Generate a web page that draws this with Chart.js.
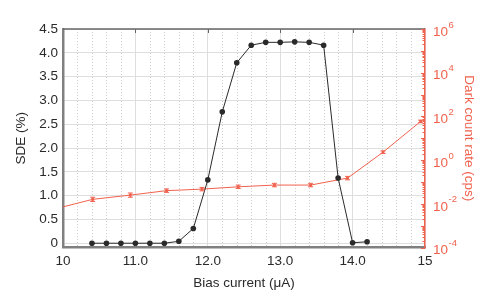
<!DOCTYPE html>
<html>
<head>
<meta charset="utf-8">
<script src="https://cdn.jsdelivr.net/npm/chart.js@4.4.1/dist/chart.umd.min.js"></script>
<style>
  html, body { margin: 0; padding: 0; background: #fff; }
  #wrap { width: 500px; height: 300px; }
</style>
</head>
<body>
<div id="wrap"><canvas id="c"></canvas></div>
<script>
// SDE vs bias current (left axis)
const biasSde = [10.4, 10.6, 10.8, 11.0, 11.2, 11.4, 11.6, 11.8, 12.0, 12.2, 12.4, 12.6, 12.8, 13.0, 13.2, 13.4, 13.6, 13.8, 14.0, 14.2];
const sdeValues = [0, 0, 0, 0, 0, 0, 0.04, 0.31, 1.33, 2.76, 3.79, 4.16, 4.22, 4.22, 4.23, 4.22, 4.16, 1.37, 0.01, 0.03];

// dark count rate vs bias current (right, log axis); first point sits just left of the axis
const biasDcr = [9.92, 10.41, 10.93, 11.43, 11.92, 12.42, 12.92, 13.42, 13.93, 14.42, 14.94];
const dcrValues = [0.0062, 0.016, 0.025, 0.040, 0.047, 0.060, 0.072, 0.072, 0.15, 2.3, 59];
const dcrErrFactor = [1, 1.25, 1.25, 1.2, 1.2, 1.2, 1.2, 1.2, 1.2, 1.15, 1.15];

// tick labels
const sdeTicks = [0, 0.5, 1.0, 1.5, 2.0, 2.5, 3.0, 3.5, 4.0, 4.5];
const sdeTickLabels = ['0', '0.5', '1.0', '1.5', '2.0', '2.5', '3.0', '3.5', '4.0', '4.5'];
const biasTicks = [10, 11, 12, 13, 14, 15];
const biasTickLabels = ['10', '11.0', '12.0', '13.0', '14.0', '15'];
const dcrExponents = [-4, -2, 0, 2, 4, 6];

const RED = '#f0624e';
const INK = '#2a2a2a';
const FONT = '"Liberation Sans", Arial, sans-serif';

const sdeData = biasSde.map((x, i) => ({ x, y: sdeValues[i] }));
const dcrData = biasDcr.map((x, i) => ({ x, y: dcrValues[i] }));

const isInt = v => Math.abs(v - Math.round(v)) < 1e-6;

// minor dotted grid, frame, inward ticks, error bars, log labels
const decor = {
  id: 'decor',
  beforeDatasetsDraw(chart) {
    const { ctx, chartArea: a, scales } = chart;
    ctx.save();
    ctx.strokeStyle = '#cfcfcf';
    ctx.lineWidth = 1;
    ctx.setLineDash([1, 2]);
    scales.x.ticks.forEach(t => {
      if (isInt(t.value)) return;
      const px = Math.round(scales.x.getPixelForValue(t.value)) + 0.5;
      ctx.beginPath(); ctx.moveTo(px, a.top); ctx.lineTo(px, a.bottom); ctx.stroke();
    });
    ctx.restore();
  },
  afterDatasetsDraw(chart) {
    const { ctx, scales } = chart;
    const x = scales.x, y2 = scales.y2;
    ctx.save();
    ctx.strokeStyle = RED;
    ctx.lineWidth = 1;
    biasDcr.forEach((bx, i) => {
      if (bx < x.min) return;
      const px = x.getPixelForValue(bx);
      const hi = y2.getPixelForValue(dcrValues[i] * dcrErrFactor[i]);
      const lo = y2.getPixelForValue(dcrValues[i] / dcrErrFactor[i]);
      ctx.beginPath();
      ctx.moveTo(px, hi); ctx.lineTo(px, lo);
      ctx.moveTo(px - 2.5, hi); ctx.lineTo(px + 2.5, hi);
      ctx.moveTo(px - 2.5, lo); ctx.lineTo(px + 2.5, lo);
      ctx.stroke();
    });
    ctx.restore();
  },
  afterDraw(chart) {
    const { ctx, chartArea: a, scales } = chart;
    const x = scales.x, y2 = scales.y2;
    ctx.save();
    // top frame with inward ticks
    ctx.strokeStyle = '#666';
    ctx.lineWidth = 1.5;
    ctx.beginPath(); ctx.moveTo(a.left, a.top); ctx.lineTo(a.right, a.top); ctx.stroke();
    ctx.lineWidth = 1;
    biasTicks.slice(1, -1).forEach(v => {
      const px = Math.round(x.getPixelForValue(v)) + 0.5;
      ctx.beginPath(); ctx.moveTo(px, a.top); ctx.lineTo(px, a.top + 4); ctx.stroke();
    });
    // right log axis inward ticks
    ctx.strokeStyle = RED;
    y2.ticks.forEach(t => {
      const lg = Math.log10(t.value);
      const major = Math.abs(lg - Math.round(lg)) < 1e-6;
      const py = Math.round(y2.getPixelForValue(t.value)) + 0.5;
      ctx.beginPath(); ctx.moveTo(a.right, py); ctx.lineTo(a.right - (major ? 4 : 2.5), py); ctx.stroke();
    });
    // right axis labels 10^n
    ctx.fillStyle = RED;
    ctx.textBaseline = 'middle';
    ctx.textAlign = 'left';
    dcrExponents.forEach(e => {
      const py = y2.getPixelForValue(Math.pow(10, e));
      const lx = a.right + 8;
      ctx.font = '13.5px ' + FONT;
      ctx.fillText('10', lx, py + 3);
      const w = ctx.measureText('10').width;
      ctx.font = '9.5px ' + FONT;
      ctx.fillText(e < 0 ? '-' + (-e) : String(e), lx + w + 0.5, py - 4);
    });
    ctx.restore();
  }
};

// log axis ticks: every 1..9 x 10^k
const logTicks = [];
for (let k = -4; k <= 6; k++) {
  for (let m = 1; m <= 9; m++) {
    if (k === 6 && m > 1) break;
    logTicks.push({ value: m * Math.pow(10, k) });
  }
}

new Chart(document.getElementById('c').getContext('2d'), {
  type: 'line',
  data: {
    datasets: [
      {
        label: 'SDE',
        data: sdeData,
        yAxisID: 'y',
        borderColor: INK,
        backgroundColor: INK,
        borderWidth: 1,
        pointRadius: 2.8,
        pointBorderWidth: 0,
        tension: 0
      },
      {
        label: 'Dark count rate',
        data: dcrData,
        yAxisID: 'y2',
        borderColor: RED,
        backgroundColor: RED,
        borderWidth: 1,
        pointStyle: 'rect',
        pointRadius: ctx => (ctx.raw && ctx.raw.x < 10 ? 0 : 2),
        pointBorderWidth: 0,
        tension: 0,
        clip: 0
      }
    ]
  },
  options: {
    responsive: true,
    maintainAspectRatio: false,
    animation: false,
    layout: { padding: { top: 29, left: 0, right: 0, bottom: 0 } },
    plugins: { legend: { display: false }, tooltip: { enabled: false } },
    scales: {
      x: {
        type: 'linear',
        min: 10,
        max: 15,
        afterFit: s => { s.height = 52.5; },
        afterBuildTicks: s => {
          const t = [];
          for (let i = 0; i <= 25; i++) t.push({ value: 10 + i * 0.2 });
          s.ticks = t;
        },
        ticks: {
          autoSkip: false,
          maxRotation: 0,
          padding: 6,
          color: INK,
          font: { family: FONT, size: 13.5 },
          callback: v => {
            const i = biasTicks.findIndex(b => Math.abs(b - v) < 1e-6);
            return i >= 0 ? biasTickLabels[i] : '';
          }
        },
        grid: {
          drawTicks: false,
          color: ctx => (ctx.tick && isInt(ctx.tick.value) ? '#dedede' : 'rgba(0,0,0,0)'),
          lineWidth: 1
        },
        border: { color: '#808080', width: 2.5 },
        title: {
          display: true,
          text: 'Bias current (\u03bcA)',
          color: INK,
          font: { family: FONT, size: 13.5 },
          padding: { top: 0, bottom: 9 }
        }
      },
      y: {
        type: 'linear',
        position: 'left',
        min: -0.09,
        max: 4.5,
        afterFit: s => { s.width = 63; },
        afterBuildTicks: s => { s.ticks = sdeTicks.map(v => ({ value: v })); },
        ticks: {
          autoSkip: false,
          padding: 5,
          color: INK,
          font: { family: FONT, size: 13.5 },
          callback: v => {
            const i = sdeTicks.findIndex(b => Math.abs(b - v) < 1e-6);
            return i >= 0 ? sdeTickLabels[i] : '';
          }
        },
        grid: { drawTicks: false, color: '#dedede', lineWidth: 1 },
        border: { color: '#808080', width: 2.5 },
        title: {
          display: true,
          text: 'SDE (%)',
          color: INK,
          font: { family: FONT, size: 13.5 },
          padding: { top: 13, bottom: 0 }
        }
      },
      y2: {
        type: 'logarithmic',
        position: 'right',
        min: 1e-4,
        max: 1e6,
        afterFit: s => { s.width = 75; },
        afterBuildTicks: s => { s.ticks = logTicks.slice(); },
        ticks: { display: false, autoSkip: false },
        grid: { drawOnChartArea: false, drawTicks: false },
        border: { color: RED, width: 1.5 },
        title: {
          display: true,
          text: 'Dark count rate (cps)',
          color: RED,
          font: { family: FONT, size: 13.5 },
          padding: { top: 23, bottom: 0 }
        }
      }
    }
  },
  plugins: [decor]
});
</script>
</body>
</html>
